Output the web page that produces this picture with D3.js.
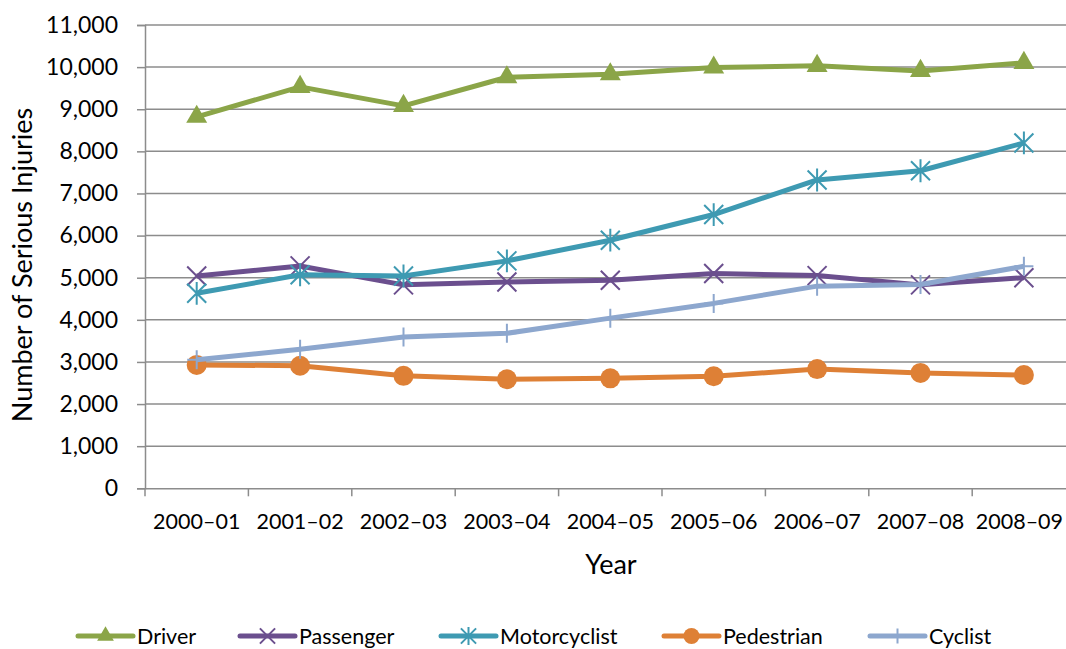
<!DOCTYPE html>
<html><head><meta charset="utf-8">
<script src="https://cdn.jsdelivr.net/npm/d3@7"></script>
<style>body{margin:0;background:#fff}svg{display:block}text{font-family:Lato,"Open Sans",sans-serif;fill:#000}</style>
</head><body><svg id="c" width="1066" height="649"></svg>
<script>
const categories = ["2000–01","2001–02","2002–03","2003–04","2004–05","2005–06","2006–07","2007–08","2008–09"];
const driver = [8820,9530,9080,9760,9830,9990,10030,9910,10100];
const passenger = [5040,5280,4830,4900,4940,5100,5050,4830,5000];
const motorcyclist = [4630,5070,5040,5400,5890,6500,7320,7540,8200];
const pedestrian = [2930,2910,2670,2590,2610,2660,2830,2740,2690];
const cyclist = [3050,3300,3590,3680,4040,4390,4800,4840,5270];
const yTicks = [0,1000,2000,3000,4000,5000,6000,7000,8000,9000,10000,11000];

const series = [
  {name:"Driver", values:driver, color:"#8BA548", marker:"triangle"},
  {name:"Passenger", values:passenger, color:"#6B4F8E", marker:"x"},
  {name:"Motorcyclist", values:motorcyclist, color:"#3E9AB2", marker:"star"},
  {name:"Pedestrian", values:pedestrian, color:"#DE8036", marker:"circle"},
  {name:"Cyclist", values:cyclist, color:"#8DA7CE", marker:"plus"}
];

const svg = d3.select("#c");
const L=145, R=1075.6, T=25, B=488.3;
const x = d3.scaleBand().domain(categories).range([L,R]);
const y = d3.scaleLinear().domain([0,11000]).range([B,T]);
const fmt = d3.format(",");

// gridlines
svg.append("g").selectAll("line").data(yTicks.filter(d=>d>0)).join("line")
  .attr("x1",L).attr("x2",R).attr("y1",d=>y(d)).attr("y2",d=>y(d))
  .attr("stroke","#8c8c8c").attr("stroke-width",1.5);

// y axis
const ya = svg.append("g").attr("transform",`translate(${L},0)`)
  .call(d3.axisLeft(y).tickValues(yTicks).tickFormat(fmt).tickSize(8).tickPadding(19));
ya.select(".domain").attr("stroke","#8c8c8c").attr("stroke-width",1.5);
ya.selectAll(".tick line").attr("stroke","#8c8c8c").attr("stroke-width",1.5);
ya.selectAll("text").style("font-size","23px").attr("fill","#000");

// x axis
const xa = svg.append("g").attr("transform",`translate(0,${B})`)
  .call(d3.axisBottom(x).tickSize(0).tickPadding(25));
xa.select(".domain").attr("stroke","#8c8c8c").attr("stroke-width",1.5);
xa.selectAll("text").style("font-size","21.5px").attr("fill","#000");
// keep the last label inside the viewport
xa.selectAll(".tick text").each(function(){
  const bb = this.getBoundingClientRect();
  if (bb.right > 1063) d3.select(this).attr("dx", (1063 - bb.right).toFixed(1));
});
svg.append("g").selectAll("line").data(d3.range(categories.length+1)).join("line")
  .attr("x1",i=>L+i*x.step()).attr("x2",i=>L+i*x.step())
  .attr("y1",B).attr("y2",B+8).attr("stroke","#8c8c8c").attr("stroke-width",1.5);

// titles
svg.append("text").attr("transform",`translate(32,265) rotate(-90)`)
  .attr("text-anchor","middle").style("font-size","27px").text("Number of Serious Injuries");
svg.append("text").attr("x",611).attr("y",574).attr("text-anchor","middle")
  .style("font-size","27px").text("Year");

function drawMarker(g, type, color, cx, cy, s){
  s = s||1;
  if(type==="triangle"){
    g.append("path").attr("d",d3.symbol(d3.symbolTriangle, 190*s*s)()).attr("transform",`translate(${cx},${cy})`).attr("fill",color);
  } else if(type==="circle"){
    g.append("circle").attr("cx",cx).attr("cy",cy).attr("r",10*s).attr("fill",color);
  } else if(type==="x"){
    const r=9.5*s;
    g.append("path").attr("d",`M${cx-r},${cy-r}L${cx+r},${cy+r}M${cx-r},${cy+r}L${cx+r},${cy-r}`).attr("stroke",color).attr("stroke-width",2);
  } else if(type==="star"){
    const r=9.5*s;
    g.append("path").attr("d",`M${cx-r},${cy-r}L${cx+r},${cy+r}M${cx-r},${cy+r}L${cx+r},${cy-r}M${cx},${cy-r*1.2}L${cx},${cy+r*1.2}`).attr("stroke",color).attr("stroke-width",2);
  } else if(type==="plus"){
    const r=9.5*s;
    g.append("path").attr("d",`M${cx},${cy-r}L${cx},${cy+r}M${cx-r},${cy}L${cx+r},${cy}`).attr("stroke",color).attr("stroke-width",2);
  }
}

const line = d3.line().x((d,i)=>x(categories[i])+x.bandwidth()/2).y(d=>y(d));
series.forEach(s=>{
  const g = svg.append("g");
  g.append("path").datum(s.values).attr("d",line).attr("fill","none")
    .attr("stroke",s.color).attr("stroke-width",5).attr("stroke-linejoin","round");
  s.values.forEach((v,i)=>drawMarker(g,s.marker,s.color,x(categories[i])+x.bandwidth()/2,y(v)));
});

// legend
const legX = [78,240,441,664,870];
series.forEach((s,i)=>{
  const g = svg.append("g");
  const x0=legX[i], ly=636;
  g.append("line").attr("x1",x0).attr("x2",x0+55).attr("y1",ly).attr("y2",ly)
    .attr("stroke",s.color).attr("stroke-width",5).attr("stroke-linecap","round");
  drawMarker(g,s.marker,s.color,x0+27.5,ly,0.8);
  g.append("text").attr("x",x0+59).attr("y",ly+8).style("font-size","21.5px").text(s.name);
});
</script></body></html>
